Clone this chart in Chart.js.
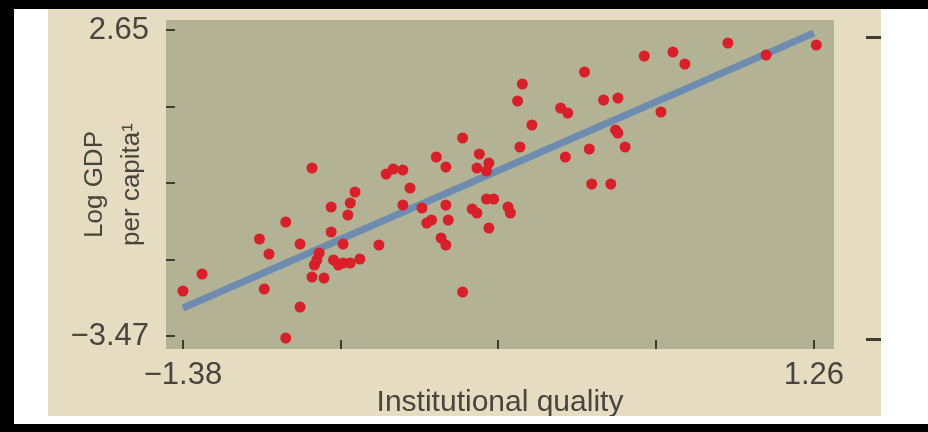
<!DOCTYPE html>
<html>
<head>
<meta charset="utf-8">
<script src="https://cdn.jsdelivr.net/npm/chart.js@4.4.1/dist/chart.umd.min.js"></script>
<style>
  html, body { margin: 0; padding: 0; }
  body { background: #000; width: 928px; height: 432px; position: relative; overflow: hidden; }
  #paper { position: absolute; left: 14px; top: 9px; width: 914px; height: 415px; background: #fff; }
  #wrap { position: absolute; left: 34px; top: 0; width: 833px; height: 407px; background: #e6dcc2; }
</style>
</head>
<body>
<div id="paper"><div id="wrap"><canvas id="scatter" width="833" height="407"></canvas></div></div>
<script>
// institutional quality (x) vs log GDP per capita (y), one entry per country
const xValues = [
  -1.38, -1.30, -1.06, -1.04, -1.02, -0.95, -0.95, -0.89, -0.89, -0.84,
  -0.84, -0.79, -0.83, -0.82, -0.81, -0.76, -0.76, -0.75, -0.73, -0.71,
  -0.71, -0.69, -0.68, -0.68, -0.66, -0.64, -0.56, -0.53, -0.50, -0.46,
  -0.43, -0.46, -0.38, -0.36, -0.34, -0.32, -0.30, -0.28, -0.28, -0.28,
  -0.27, -0.21, -0.21, -0.17, -0.15, -0.15, -0.14, -0.11, -0.10, -0.11,
  -0.08, -0.10, -0.02, -0.01, 0.02, 0.03, 0.04, 0.08, 0.20, 0.23,
  0.22, 0.30, 0.32, 0.33, 0.38, 0.41, 0.43, 0.44, 0.44, 0.47,
  0.55, 0.62, 0.67, 0.72, 0.90, 1.06, 1.27
];
const yValues = [
  -2.57, -2.23, -1.53, -2.53, -1.83, -1.19, -3.51, -1.63, -2.89, -0.11,
  -2.29, -2.31, -2.05, -1.95, -1.81, -0.89, -1.39, -1.95, -2.05, -1.63,
  -2.01, -1.05, -2.01, -0.81, -0.59, -1.93, -1.65, -0.23, -0.13, -0.15,
  -0.51, -0.85, -0.91, -1.21, -1.15, 0.11, -1.51, -1.65, -0.09, -0.85,
  -1.15, -2.59, 0.49, -0.93, -1.01, -0.11, 0.17, -0.17, -0.01, -0.73,
  -0.73, -1.31, -0.89, -1.01, 1.23, 0.31, 1.57, 0.75, 1.09, 0.99,
  0.11, 1.81, 0.27, -0.43, 1.25, -0.43, 0.65, 0.59, 1.29, 0.31,
  2.13, 1.01, 2.21, 1.97, 2.39, 2.15, 2.35
];
const fitX = [-1.38, 1.26];
const fitY = [-2.91, 2.59];
const xTicks = [-1.38, -0.72, -0.06, 0.60, 1.26];
const yTicks = [2.65, 1.12, -0.41, -1.94, -3.47];
const sideMarks = [2.51, -3.53];

const points = xValues.map((x, i) => ({ x: x, y: yValues[i] }));
const fitLine = fitX.map((x, i) => ({ x: x, y: fitY[i] }));

const fmt = v => v.toFixed(2).replace('-', '\u2212');
const edgeOnly = (v, i, arr) => (i === 0 || i === arr.length - 1) ? fmt(v) : '';

const textColor = '#47453d';
const family = "'Liberation Sans', Arial, sans-serif";

const plotBox = {
  id: 'plotBox',
  beforeDraw(chart) {
    const { ctx, chartArea: a } = chart;
    ctx.save();
    ctx.fillStyle = '#b3b294';
    ctx.fillRect(a.left, a.top, a.right - a.left, a.bottom - a.top);
    ctx.restore();
  },
  afterDatasetsDraw(chart) {
    const { ctx, chartArea: a, scales } = chart;
    ctx.save();
    ctx.fillStyle = '#3e3b31';
    yTicks.forEach(v => {
      const y = Math.round(scales.y.getPixelForValue(v));
      ctx.fillRect(a.left, y - 1, 9, 2);
    });
    xTicks.forEach(v => {
      const x = Math.round(scales.x.getPixelForValue(v));
      ctx.fillRect(x - 1, a.bottom - 9, 2, 9);
    });
    sideMarks.forEach(v => {
      const y = Math.round(scales.y.getPixelForValue(v));
      ctx.fillRect(a.right + 32, y - 1, 15, 3);
    });
    ctx.restore();
  }
};

const el = document.getElementById('scatter');

new Chart(el, {
  type: 'scatter',
  data: {
    datasets: [{
      data: points,
      backgroundColor: '#d8202a',
      borderWidth: 0,
      pointRadius: 5.5,
      order: 1
    }, {
      data: fitLine,
      showLine: true,
      borderColor: '#6e8cb0',
      borderWidth: 7,
      borderCapStyle: 'butt',
      pointRadius: 0,
      order: 2
    }]
  },
  options: {
    responsive: false,
    animation: false,
    layout: { padding: { top: 11, right: 47, left: 0, bottom: 0 } },
    plugins: {
      legend: { display: false },
      tooltip: { enabled: false }
    },
    scales: {
      x: {
        type: 'linear',
        min: -1.451,
        max: 1.344,
        grid: { display: false },
        border: { display: false },
        afterBuildTicks: s => { s.ticks = xTicks.map(v => ({ value: v })); },
        afterFit: s => { s.height = 67; s.paddingLeft = 0; s.paddingRight = 0; },
        ticks: {
          callback: edgeOnly,
          autoSkip: false,
          maxRotation: 0,
          padding: 0,
          color: textColor,
          font: { family: family, size: 31, lineHeight: 1.2 }
        },
        title: {
          display: true,
          text: 'Institutional quality',
          color: textColor,
          font: { family: family, size: 30, lineHeight: 0.9 },
          padding: { top: 0, bottom: 0 }
        }
      },
      y: {
        type: 'linear',
        min: -3.73,
        max: 2.85,
        grid: { display: false },
        border: { display: false },
        afterBuildTicks: s => { s.ticks = yTicks.map(v => ({ value: v })); },
        afterFit: s => { s.width = 118; s.paddingTop = 0; s.paddingBottom = 0; },
        ticks: {
          callback: edgeOnly,
          autoSkip: false,
          padding: 9,
          color: textColor,
          font: { family: family, size: 31 }
        },
        title: {
          display: true,
          text: ['Log GDP', 'per capita\u00b9'],
          color: textColor,
          font: { family: family, size: 26, lineHeight: 1.42 },
          padding: { top: 28, bottom: 0 }
        }
      }
    }
  },
  plugins: [plotBox]
});
</script>
</body>
</html>
